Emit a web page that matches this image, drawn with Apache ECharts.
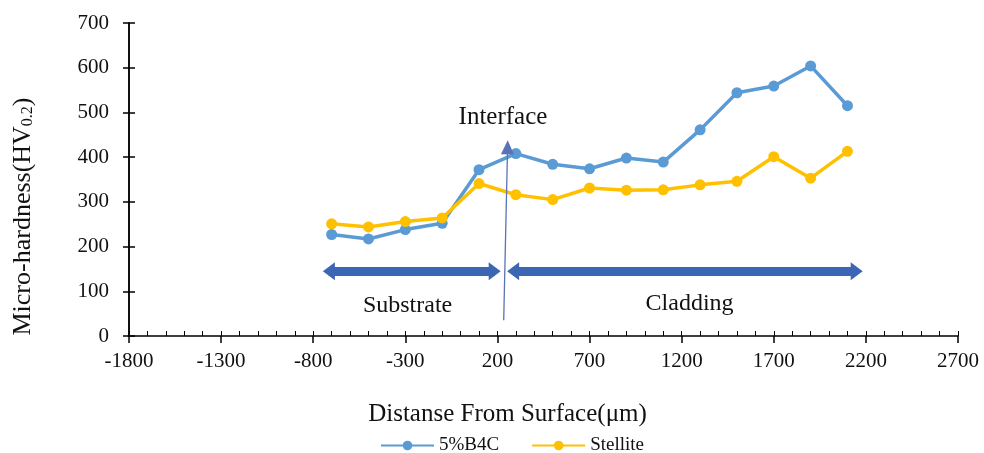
<!DOCTYPE html>
<html>
<head>
<meta charset="utf-8">
<script src="https://cdn.jsdelivr.net/npm/echarts@6/dist/echarts.min.js"></script>
<style>
html, body { margin: 0; padding: 0; background: #fff; }
#chart { width: 984px; height: 453px; }
</style>
</head>
<body>
<div id="chart"></div>
<script>
// distance from surface (um) and micro-hardness readings
var distance = [-700, -500, -300, -100, 100, 300, 500, 700, 900, 1100, 1300, 1500, 1700, 1900, 2100];
var b4c = [227, 217, 238, 252, 372, 408, 384, 374, 398, 389, 461, 544, 559, 604, 515];
var stellite = [251, 244, 256, 264, 341, 316, 305, 331, 326, 327, 338, 346, 401, 353, 413];
var seriesNames = ['5%B4C', 'Stellite'];

var serif = 'Liberation Serif';
var arrowColor = '#3c66b4';

function pairs(ys) {
	var out = [];
	for (var i = 0; i < distance.length; i++) {
		out.push([distance[i], ys[i]]);
	}
	return out;
}
function plain(v) {
	return String(v);
}

var chart = echarts.init(document.getElementById('chart'));
chart.setOption({
	animation: false,
	color: ['#5b9bd5', '#ffc000'],
	grid: {
		left: 129,
		right: 26,
		top: 23,
		bottom: 117
	},
	legend: {
		top: 431,
		left: 375,
		itemWidth: 53,
		itemHeight: 12,
		itemGap: 32,
		data: seriesNames,
		textStyle: { fontFamily: serif, fontSize: 19, color: '#111' }
	},
	xAxis: [
		{
			type: 'value',
			min: -1800,
			max: 2700,
			interval: 500,
			name: 'Distanse From Surface(μm)',
			nameLocation: 'middle',
			nameGap: 66,
			nameTextStyle: { fontFamily: serif, fontSize: 25, color: '#111', padding: [0, 72, 0, 0] },
			axisLine: { onZero: false, lineStyle: { color: '#000', width: 1.5 } },
			axisTick: { length: 7, lineStyle: { color: '#000', width: 1.5 } },
			axisLabel: { fontFamily: serif, fontSize: 21, color: '#111', margin: 15, formatter: plain },
			splitLine: { show: false }
		},
		{
			// small inside ticks every 100
			type: 'value',
			position: 'bottom',
			min: -1800,
			max: 2700,
			interval: 100,
			axisLine: { show: false, onZero: false },
			axisTick: { inside: true, length: 5, lineStyle: { color: '#000', width: 1 } },
			axisLabel: { show: false },
			splitLine: { show: false }
		}
	],
	yAxis: [
		{
			type: 'value',
			min: 0,
			max: 700,
			interval: 100,
			name: '{t|Micro-hardness(HV}{s|0.2}{t|)}',
			nameLocation: 'middle',
			nameGap: 93,
			nameTextStyle: {
				padding: [0, 74, 0, 0],
				rich: {
					t: { fontFamily: serif, fontSize: 26, color: '#111' },
					s: { fontFamily: serif, fontSize: 16, color: '#111', verticalAlign: 'bottom', padding: [10, 0, 0, 0] }
				}
			},
			axisLine: { show: true, onZero: false, lineStyle: { color: '#000', width: 1.5 } },
			axisTick: { show: true, length: 6, lineStyle: { color: '#000', width: 1.5 } },
			axisLabel: { fontFamily: serif, fontSize: 21, color: '#111', margin: 20, formatter: plain },
			splitLine: { show: false }
		},
		{
			// same scale, draws the inner half of the crossing y ticks
			type: 'value',
			position: 'left',
			offset: 0,
			min: 0,
			max: 700,
			interval: 100,
			axisLine: { show: true, onZero: false, lineStyle: { color: '#000', width: 1.5 } },
			axisTick: { show: true, inside: true, length: 6, lineStyle: { color: '#000', width: 1.5 } },
			axisLabel: { show: false },
			splitLine: { show: false }
		}
	],
	series: [
		{
			name: seriesNames[0],
			type: 'line',
			data: pairs(b4c),
			symbol: 'circle',
			symbolSize: 11,
			lineStyle: { width: 3.5 },
			z: 3
		},
		{
			name: seriesNames[1],
			type: 'line',
			yAxisIndex: 1,
			data: pairs(stellite),
			symbol: 'circle',
			symbolSize: 11,
			lineStyle: { width: 3.5 },
			z: 4,
			markLine: {
				silent: true,
				animation: false,
				label: { show: false },
				data: [
					// arrow shafts
					[{ coord: [-715, 145], symbol: 'none', lineStyle: { color: arrowColor, width: 9, type: 'solid' } },
					 { coord: [185, 145], symbol: 'none' }],
					[{ coord: [285, 145], symbol: 'none', lineStyle: { color: arrowColor, width: 9, type: 'solid' } },
					 { coord: [2150, 145], symbol: 'none' }],
					// arrow heads
					[{ coord: [-715, 145], symbol: 'triangle', symbolSize: [18, 12], lineStyle: { color: arrowColor, width: 1, type: 'solid' } },
					 { coord: [185, 145], symbol: 'triangle', symbolSize: [18, 12] }],
					[{ coord: [285, 145], symbol: 'triangle', symbolSize: [18, 12], lineStyle: { color: arrowColor, width: 1, type: 'solid' } },
					 { coord: [2150, 145], symbol: 'triangle', symbolSize: [18, 12] }],
					// interface marker
					[{ coord: [234, 35], symbol: 'none', lineStyle: { color: '#5a72b6', width: 1.3, type: 'solid' } },
					 { coord: [255, 422], symbol: 'triangle', symbolSize: [13, 14] }]
				]
			},
			markPoint: {
				silent: true,
				symbol: 'circle',
				symbolSize: 1,
				itemStyle: { color: 'rgba(0,0,0,0)' },
				label: { show: true, position: 'inside', fontFamily: serif, fontSize: 24, color: '#111' },
				data: [
					{ coord: [230, 488], label: { formatter: 'Interface', fontSize: 25 } },
					{ coord: [-288, 68], label: { formatter: 'Substrate' } },
					{ coord: [1243, 72], label: { formatter: 'Cladding' } }
				]
			}
		}
	]
});
</script>
</body>
</html>
